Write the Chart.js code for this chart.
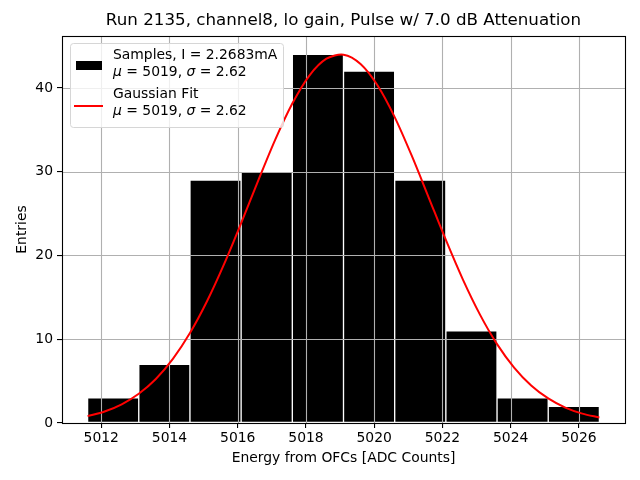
<!DOCTYPE html>
<html>
<head>
<meta charset="utf-8">
<title>Run 2135 histogram</title>
<script src="https://cdn.jsdelivr.net/npm/chart.js@4.4.0/dist/chart.umd.min.js"></script>
<style>
html, body { margin: 0; padding: 0; background: #fff; }
</style>
</head>
<body>
<canvas id="chart" width="640" height="480"></canvas>
<script>
/* Histogram + gaussian fit, lo gain pulse */

// Data
const binCenters = [5012.35, 5013.85, 5015.35, 5016.85, 5018.35, 5019.85, 5021.35, 5022.85, 5024.35, 5025.85];
const counts = [3, 7, 29, 30, 44, 42, 29, 11, 3, 2];

const fitX = [5011.6, 5012.1, 5012.6, 5013.1, 5013.6, 5014.1, 5014.6, 5015.1, 5015.6, 5016.1,
              5016.6, 5017.1, 5017.6, 5018.1, 5018.6, 5019.1, 5019.6, 5020.1, 5020.6, 5021.1,
              5021.6, 5022.1, 5022.6, 5023.1, 5023.6, 5024.1, 5024.6, 5025.1, 5025.6, 5026.1, 5026.6];
const fitY = [0.82, 1.37, 2.23, 3.49, 5.26, 7.66, 10.74, 14.53, 18.96, 23.85,
              28.93, 33.83, 38.14, 41.48, 43.49, 43.97, 42.86, 40.29, 36.52, 31.91,
              26.89, 21.85, 17.12, 12.94, 9.42, 6.62, 4.48, 2.93, 1.84, 1.12, 0.66];

const xTicks = [5012, 5014, 5016, 5018, 5020, 5022, 5024, 5026];
const yTicks = [0, 10, 20, 30, 40];
const xMin = 5010.85;
const xMax = 5027.35;
const yMax = 46.2;

const titleText = 'Run 2135, channel8, lo gain, Pulse w/ 7.0 dB Attenuation';
const xTitle = 'Energy from OFCs [ADC Counts]';
const yTitle = 'Entries';
const sampleLabel = ['Samples, I = 2.2683mA', 'μ = 5019, σ = 2.62'];
const fitLabel = ['Gaussian Fit', 'μ = 5019, σ = 2.62'];

const FONT = 'DejaVu Sans';
const tickFont = { family: FONT, size: 13.9 };

// Grid lines go above the bars but under the fit line (matplotlib style)
function drawGrid(chart) {
    const ctx = chart.ctx;
    const area = chart.chartArea;
    const xs = chart.scales.x;
    const ys = chart.scales.y;
    ctx.save();
    ctx.strokeStyle = '#b0b0b0';
    ctx.lineWidth = 1.1;
    xTicks.forEach(v => {
        const px = Math.round(xs.getPixelForValue(v)) + 0.5;
        ctx.beginPath();
        ctx.moveTo(px, area.top);
        ctx.lineTo(px, area.bottom);
        ctx.stroke();
    });
    yTicks.forEach(v => {
        const py = Math.round(ys.getPixelForValue(v)) + 0.5;
        ctx.beginPath();
        ctx.moveTo(area.left, py);
        ctx.lineTo(area.right, py);
        ctx.stroke();
    });
    ctx.restore();
}

// text with italic greek letters
function drawRich(ctx, text, x, y) {
    let cx = x;
    for (const ch of text) {
        const italic = (ch === 'μ' || ch === 'σ');
        ctx.font = (italic ? 'italic ' : '') + '13.9px "' + FONT + '"';
        ctx.fillText(ch, cx, y);
        cx += ctx.measureText(ch).width;
    }
}

function drawLegend(chart) {
    const ctx = chart.ctx;
    const bx = 70.5, by = 43.5, bw = 213, bh = 84, r = 3;
    ctx.save();
    ctx.beginPath();
    ctx.moveTo(bx + r, by);
    ctx.arcTo(bx + bw, by, bx + bw, by + bh, r);
    ctx.arcTo(bx + bw, by + bh, bx, by + bh, r);
    ctx.arcTo(bx, by + bh, bx, by, r);
    ctx.arcTo(bx, by, bx + bw, by, r);
    ctx.closePath();
    ctx.fillStyle = 'rgba(255,255,255,0.8)';
    ctx.fill();
    ctx.strokeStyle = '#d6d6d6';
    ctx.lineWidth = 1;
    ctx.stroke();

    // handles
    ctx.fillStyle = '#000';
    ctx.fillRect(76, 61, 26, 9);
    ctx.strokeStyle = '#ff0000';
    ctx.lineWidth = 2;
    ctx.beginPath();
    ctx.moveTo(74, 106);
    ctx.lineTo(103, 106);
    ctx.stroke();

    // labels
    ctx.fillStyle = '#000';
    ctx.textBaseline = 'middle';
    ctx.textAlign = 'left';
    drawRich(ctx, sampleLabel[0], 113, 55);
    drawRich(ctx, sampleLabel[1], 113, 72);
    drawRich(ctx, fitLabel[0], 113, 94);
    drawRich(ctx, fitLabel[1], 113, 111);
    ctx.restore();
}

const mplLook = {
    id: 'mplLook',
    beforeDatasetDraw(chart, args) {
        if (chart.data.datasets[args.index].type === 'line') drawGrid(chart);
    },
    afterDraw(chart) {
        const ctx = chart.ctx;
        const a = chart.chartArea;
        ctx.save();
        ctx.strokeStyle = '#000';
        ctx.lineWidth = 1.1;
        ctx.strokeRect(Math.round(a.left) + 0.5, Math.round(a.top) + 0.5,
                       Math.round(a.right - a.left), Math.round(a.bottom - a.top));
        // title centred over the axes box
        ctx.fillStyle = '#000';
        ctx.font = '16.7px "' + FONT + '"';
        ctx.textAlign = 'center';
        ctx.textBaseline = 'middle';
        ctx.fillText(titleText, (a.left + a.right) / 2, 21);
        ctx.restore();
        drawLegend(chart);
    }
};

const ctx = document.getElementById('chart').getContext('2d');

const chart = new Chart(ctx, {
    type: 'bar',
    data: {
        datasets: [
            {
                type: 'line',
                label: fitLabel.join(' '),
                data: fitX.map((x, i) => ({ x: x, y: fitY[i] })),
                borderColor: '#ff0000',
                borderWidth: 2,
                pointRadius: 0,
                tension: 0.3,
                fill: false,
                order: 1,
            },
            {
                type: 'bar',
                label: sampleLabel.join(' '),
                data: binCenters.map((x, i) => ({ x: x, y: counts[i] })),
                backgroundColor: '#000000',
                borderColor: '#ffffff',
                borderWidth: 1,
                borderSkipped: false,
                barPercentage: 1.0,
                categoryPercentage: 1.0,
                order: 2,
            }
        ]
    },
    options: {
        responsive: false,
        animation: false,
        devicePixelRatio: 1,
        layout: {
            padding: { left: 0, right: 15, top: 36, bottom: 0 }
        },
        plugins: {
            legend: { display: false },
            tooltip: { enabled: false },
            title: { display: false }
        },
        scales: {
            x: {
                type: 'linear',
                min: xMin,
                max: xMax,
                offset: false,
                afterBuildTicks: s => { s.ticks = xTicks.map(v => ({ value: v })); },
                afterFit: s => { s.height = 57; },
                grid: {
                    offset: false,
                    drawOnChartArea: false,
                    drawTicks: true,
                    tickLength: 5,
                    color: '#000',
                    lineWidth: 1.1
                },
                border: { display: false },
                ticks: {
                    color: '#000',
                    font: tickFont,
                    padding: 2,
                    autoSkip: false,
                    maxRotation: 0,
                    callback: v => String(v)
                },
                title: {
                    display: true,
                    text: xTitle,
                    color: '#000',
                    font: tickFont,
                    padding: { top: 0, bottom: 13 }
                }
            },
            y: {
                min: 0,
                max: yMax,
                afterBuildTicks: s => { s.ticks = yTicks.map(v => ({ value: v })); },
                afterFit: s => { s.width = 62; },
                grid: {
                    drawOnChartArea: false,
                    drawTicks: true,
                    tickLength: 5,
                    color: '#000',
                    lineWidth: 1.1
                },
                border: { display: false },
                ticks: {
                    color: '#000',
                    font: tickFont,
                    padding: 4,
                    callback: v => String(v)
                },
                title: {
                    display: true,
                    text: yTitle,
                    color: '#000',
                    font: tickFont,
                    padding: { top: 14, bottom: 0 }
                }
            }
        }
    },
    plugins: [mplLook]
});
</script>
</body>
</html>
